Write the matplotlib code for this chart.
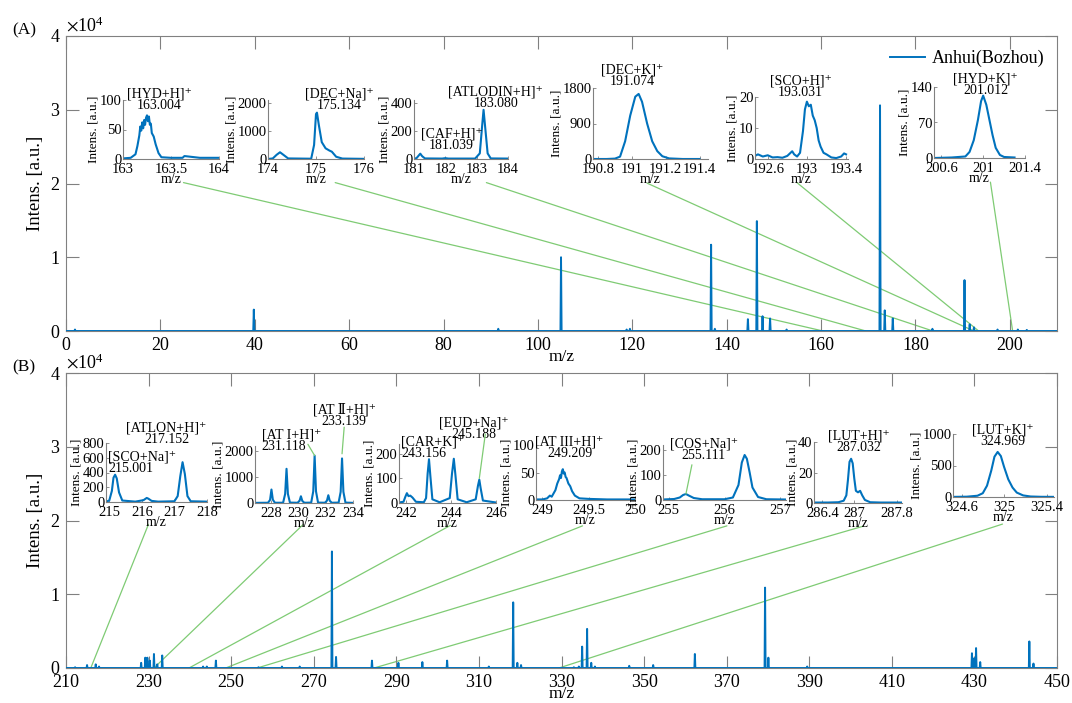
import matplotlib.pyplot as plt
from matplotlib.patches import ConnectionPatch

plt.rcParams['font.family'] = ['Liberation Serif', 'DejaVu Serif', 'DejaVu Sans']
plt.rcParams['mathtext.fontset'] = 'stix'

W, H = 1072, 703
BLUE = '#0072BD'
GREEN = '#7fcb74'
GREY = '#808080'

# ---- main spectra: peak m/z and intensity (counts)
a_mz = [1.9, 39.8, 91.6, 104.9, 118.8, 119.5, 136.7, 137.5, 144.5, 146.4, 147.6,
        149.2, 152.7, 172.5, 173.5, 175.2, 183.6, 190.4, 191.5, 192.4, 197.4,
        201.7, 203.6]
a_int = [200, 2900, 300, 10000, 200, 300, 11700, 300, 1600, 14900, 2000,
         1700, 200, 30600, 2800, 1700, 300, 6900, 900, 500, 200,
         200, 150]

b_mz = [212.2, 215.1, 217.2, 218.0, 228.2, 229.2, 229.7, 230.3, 231.3, 232.1,
        233.3, 243.2, 244.1, 246.3, 256.6, 262.3, 266.6, 274.4, 275.4, 284.1,
        290.5, 296.3, 302.3, 312.4, 318.3, 319.3, 320.2, 333.0, 334.2, 335.0,
        336.2, 337.2, 338.1, 346.4, 352.2, 362.3, 379.3, 380.1, 389.5, 429.4,
        429.9, 430.4, 431.4, 443.3, 444.3]
b_int = [100, 400, 500, 200, 700, 1400, 1400, 1000, 1900, 500,
         1700, 200, 200, 1000, 100, 200, 200, 15800, 1500, 1000,
         700, 800, 1000, 200, 8900, 700, 400, 100, 200, 2900,
         5300, 700, 200, 300, 400, 1900, 10900, 1400, 200, 2000,
         1300, 2700, 800, 3600, 600]

# where the zoom lines land on each main spectrum
a_link_mz = [160.4, 169.5, 183.7, 192.4, 193.4, 200.6]
b_link_mz = [216.0, 231.3, 239.8, 248.7, 256.3, 284.6, 329.4]

# ---- zoomed profiles, panel A
hydh_x = [163.0, 163.08, 163.13, 163.15, 163.17, 163.18, 163.19, 163.20, 163.21,
          163.22, 163.23, 163.24, 163.25, 163.26, 163.27, 163.28, 163.29, 163.30,
          163.32, 163.34, 163.37, 163.40, 163.5, 163.62, 163.64, 163.8, 164.0]
hydh_y = [1, 2, 8, 22, 40, 55, 48, 62, 52, 66, 58, 70, 74, 64, 72, 58, 60, 44,
          38, 25, 10, 3, 2, 2, 5, 2, 2]

decna_x = [174.0, 174.1, 174.18, 174.25, 174.32, 174.42, 174.9, 174.96, 175.0,
           175.02, 175.06, 175.12, 175.2, 175.28, 175.33, 175.42, 175.55, 176.0]
decna_y = [0, 20, 150, 240, 150, 20, 10, 500, 1600, 1650, 1200, 600, 380, 300,
           260, 80, 15, 5]

atlodin_x = [181.0, 181.08, 181.14, 181.2, 181.26, 181.35, 181.9, 182.0, 182.1,
             182.95, 183.1, 183.18, 183.22, 183.27, 183.35, 183.45, 184.0]
atlodin_y = [2, 6, 22, 38, 20, 4, 3, 6, 3, 3, 40, 250, 350, 230, 40, 4, 3]

deck_x = [190.77, 190.85, 190.9, 190.93, 190.96, 190.99, 191.02, 191.04, 191.06,
          191.09, 191.12, 191.15, 191.18, 191.22, 191.3, 191.4]
deck_y = [0, 0, 10, 60, 450, 1100, 1580, 1650, 1450, 900, 450, 200, 70, 15, 0, 0]

scoh_x = [192.47, 192.5, 192.55, 192.6, 192.65, 192.7, 192.75, 192.8, 192.85,
          192.87, 192.9, 192.93, 192.96, 192.98, 193.0, 193.02, 193.04, 193.06,
          193.08, 193.1, 193.12, 193.14, 193.17, 193.2, 193.25, 193.3, 193.35,
          193.38, 193.4]
scoh_y = [1, 1.5, 0.8, 1.2, 0.5, 0.6, 0.4, 1.0, 2.5, 1.5, 0.8, 2, 9, 16, 18.5,
          17, 17.5, 14, 12.5, 10, 6, 4, 2, 1.5, 0.5, 0.3, 0.8, 1.8, 1.5]

hydk_x = [200.53, 200.7, 200.83, 200.87, 200.91, 200.95, 200.98, 201.0, 201.03,
          201.06, 201.09, 201.12, 201.16, 201.2, 201.3]
hydk_y = [0, 1, 3, 12, 35, 75, 112, 123, 105, 75, 45, 20, 6, 2, 1]

# ---- zoomed profiles, panel B
scona_x = [214.9, 215.0, 215.08, 215.13, 215.18, 215.23, 215.3, 215.4, 215.8,
           216.05, 216.15, 216.2, 216.3, 216.5, 217.0, 217.1, 217.18, 217.25,
           217.32, 217.4, 217.5, 218.0]
scona_y = [5, 20, 150, 330, 370, 320, 130, 20, 5, 25, 55, 45, 15, 5, 10, 80,
           350, 540, 380, 80, 10, 5]

at12_x = [226.85, 227.8, 227.95, 228.05, 228.15, 228.3, 228.9, 229.05, 229.15,
          229.25, 229.4, 229.95, 230.1, 230.2, 230.3, 230.45, 230.95, 231.1,
          231.2, 231.3, 231.45, 231.95, 232.1, 232.2, 232.3, 232.45, 232.95,
          233.1, 233.2, 233.3, 233.45, 234.0]
at12_y = [5, 10, 120, 520, 130, 10, 10, 350, 1320, 350, 15, 10, 80, 260, 80, 10,
          15, 450, 1830, 450, 15, 10, 90, 300, 90, 10, 15, 430, 1720, 430, 15, 5]

cark_x = [241.7, 241.9, 241.98, 242.05, 242.12, 242.2, 242.3, 242.45, 242.8,
          242.9, 242.97, 243.03, 243.09, 243.18, 243.5, 243.95, 244.05, 244.13,
          244.2, 244.3, 244.7, 245.1, 245.2, 245.26, 245.32, 245.42, 246.0]
cark_y = [2, 5, 25, 40, 28, 30, 22, 5, 3, 20, 120, 178, 110, 15, 3, 20, 120, 180,
          115, 15, 3, 15, 70, 95, 60, 10, 2]

at3_x = [248.93, 249.0, 249.05, 249.08, 249.1, 249.12, 249.14, 249.16, 249.18,
         249.19, 249.2, 249.21, 249.22, 249.23, 249.24, 249.25, 249.26, 249.28,
         249.3, 249.32, 249.35, 249.4, 249.5, 249.7, 249.9, 250.0]
at3_y = [1, 1, 3, 8, 6, 12, 18, 30, 38, 45, 40, 52, 56, 48, 50, 42, 40, 30, 25,
         16, 8, 3, 2, 1, 1, 1]

cosna_x = [254.9, 255.1, 255.2, 255.26, 255.31, 255.36, 255.45, 255.6, 256.0,
           256.15, 256.25, 256.31, 256.36, 256.4, 256.45, 256.5, 256.6, 256.75,
           257.1]
cosna_y = [2, 4, 10, 20, 24, 18, 8, 3, 3, 10, 60, 150, 180, 165, 110, 50, 12, 3, 2]

luth_x = [286.24, 286.5, 286.7, 286.8, 286.85, 286.88, 286.91, 286.94, 286.97,
          287.0, 287.03, 287.07, 287.11, 287.15, 287.2, 287.3, 287.5, 287.8, 287.9]
luth_y = [0.3, 0.3, 0.5, 1.5, 5, 15, 27, 29, 26, 16, 8, 7, 8, 5, 2, 0.5, 0.3,
          0.3, 0.3]

lutk_x = [324.52, 324.65, 324.75, 324.8, 324.84, 324.88, 324.91, 324.94, 324.97,
          325.0, 325.04, 325.08, 325.12, 325.18, 325.25, 325.35, 325.47]
lutk_y = [2, 5, 20, 60, 180, 420, 640, 715, 650, 480, 280, 150, 70, 25, 8, 3, 2]


def px_axes(fig, x0, x1, y0, y1):
    return fig.add_axes([x0 / W, 1 - y1 / H, (x1 - x0) / W, (y1 - y0) / H])


def sticks(mz, inten, lo, hi):
    xs, ys = [lo], [0]
    for m, h in zip(mz, inten):
        xs += [m - 0.12, m, m + 0.12]
        ys += [0, h, 0]
    xs.append(hi)
    ys.append(0)
    return xs, ys


def main_panel(fig, y0, y1, mz, inten, xlim, xticks, tag):
    ax = px_axes(fig, 66, 1057, y0, y1)
    xs, ys = sticks(mz, inten, *xlim)
    ax.plot(xs, ys, color=BLUE, lw=1.4, label='Anhui(Bozhou)', zorder=3)
    ax.set_xlim(xlim)
    ax.set_ylim(0, 40000)
    ax.set_xticks(xticks)
    ax.set_yticks([0, 10000, 20000, 30000, 40000])
    ax.ticklabel_format(axis='y', style='sci', scilimits=(4, 4), useMathText=True)
    ax.yaxis.get_offset_text().set_fontsize(13)
    ax.tick_params(direction='in', length=9, width=0.8, color=GREY,
                   top=True, right=True, labelsize=13, pad=4)
    for s in ax.spines.values():
        s.set_color(GREY)
        s.set_linewidth(0.8)
    ax.set_xlabel('m/z', fontsize=12.5, labelpad=-3)
    ax.set_ylabel('Intens. [a.u.]', fontsize=13.5, labelpad=4)
    fig.text(12 / W, 1 - (y0 - 6) / H, tag, fontsize=12.5, va='center')
    return ax


def inset(fig, rect, x, y, xlim, xticks, ylim, yticks):
    ax = px_axes(fig, *rect)
    ax.set_facecolor('none')
    ax.plot(x, y, color=BLUE, lw=1.5)
    ax.set_xlim(xlim)
    ax.set_ylim(ylim)
    ax.set_xticks(xticks)
    ax.set_xticklabels(['%g' % t for t in xticks])
    ax.set_yticks(yticks)
    ax.set_yticklabels(['%g' % t for t in yticks])
    ax.spines['top'].set_visible(False)
    ax.spines['right'].set_visible(False)
    for s in ('left', 'bottom'):
        ax.spines[s].set_color(GREY)
        ax.spines[s].set_linewidth(0.8)
    ax.tick_params(direction='in', length=2.5, width=0.6, color=GREY,
                   labelsize=10.5, pad=1)
    ax.tick_params(axis='x', pad=3)
    ax.set_xlabel('m/z', fontsize=10, labelpad=-2.5)
    ax.set_ylabel('Intens. [a.u.]', fontsize=9.5, labelpad=0)
    return ax


def tag(ax, fx, fy, name, value, ha='center'):
    ax.text(fx, fy, name + '\n' + value, transform=ax.transAxes, ha=ha,
            va='top', fontsize=10, linespacing=0.85)


def leader(ax, peak_x, peak_y, fx, fy):
    ax.annotate('', xy=(peak_x, peak_y), xytext=(fx, fy),
                textcoords='axes fraction',
                arrowprops=dict(arrowstyle='-', color=GREEN, lw=0.9,
                                shrinkA=0, shrinkB=0))


def link(main, ins, fx, fy, target):
    con = ConnectionPatch(xyA=(fx, fy), coordsA='axes fraction', axesA=ins,
                          xyB=(target, 0), coordsB='data', axesB=main,
                          color=GREEN, lw=0.9, zorder=1)
    con.set_clip_on(False)
    main.add_artist(con)


fig = plt.figure(figsize=(W / 100, H / 100), dpi=100)

# ---------------- panel A
ax_a = main_panel(fig, 36, 331, a_mz, a_int, (0, 210), list(range(0, 201, 20)), '(A)')
ax_a.legend(loc='upper right', frameon=False, fontsize=13, handlelength=1.9,
            handletextpad=0.4, bbox_to_anchor=(1.0, 0.995), borderaxespad=0.3)

i1 = inset(fig, (123, 219, 100, 159), hydh_x, hydh_y, (163, 164), [163, 163.5, 164],
           (0, 100), [0, 50, 100])
tag(i1, 0.38, 1.22, '[HYD+H]⁺', '163.004')
i2 = inset(fig, (268, 364, 100, 159), decna_x, decna_y, (174, 176), [174, 175, 176],
           (0, 2100), [0, 1000, 2000])
tag(i2, 0.74, 1.22, '[DEC+Na]⁺', '175.134')
i3 = inset(fig, (414, 508, 100, 159), atlodin_x, atlodin_y, (181, 184),
           [181, 182, 183, 184], (0, 420), [0, 200, 400])
tag(i3, 0.87, 1.25, '[ATLODIN+H]⁺', '183.080')
tag(i3, 0.4, 0.53, '[CAF+H]⁺', '181.039')
i4 = inset(fig, (593, 708, 88, 159), deck_x, deck_y, (190.77, 191.45),
           [190.8, 191, 191.2, 191.4], (0, 1800), [0, 900, 1800])
tag(i4, 0.34, 1.34, '[DEC+K]⁺', '191.074')
i5 = inset(fig, (755, 848, 97, 159), scoh_x, scoh_y, (192.47, 193.42),
           [192.6, 193, 193.4], (0, 20), [0, 10, 20])
tag(i5, 0.49, 1.37, '[SCO+H]⁺', '193.031')
i6 = inset(fig, (934, 1025, 87, 158), hydk_x, hydk_y, (200.53, 201.4),
           [200.6, 201, 201.4], (0, 140), [0, 70, 140])
tag(i6, 0.57, 1.21, '[HYD+K]⁺', '201.012')

a_starts = [(0.63, -0.4), (0.70, -0.4), (0.77, -0.4),
            (0.47, -0.34), (0.45, -0.38), (0.62, -0.34)]
for ins, (fx, fy), t in zip([i1, i2, i3, i4, i5, i6], a_starts, a_link_mz):
    link(ax_a, ins, fx, fy, t)

# ---------------- panel B
ax_b = main_panel(fig, 373, 668, b_mz, b_int, (210, 450), list(range(210, 451, 20)), '(B)')

j1 = inset(fig, (106, 207, 443, 502), scona_x, scona_y, (214.9, 218),
           [215, 216, 217, 218], (0, 800), [0, 200, 400, 600, 800])
tag(j1, 0.6, 1.36, '[ATLON+H]⁺', '217.152')
tag(j1, 0.02, 0.88, '[SCO+Na]⁺', '215.001', ha='left')
j2 = inset(fig, (255, 353, 446, 503), at12_x, at12_y, (226.85, 234),
           [228, 230, 232, 234], (0, 2200), [0, 1000, 2000])
tag(j2, 0.91, 1.75, '[AT Ⅱ+H]⁺', '233.139')
tag(j2, 0.07, 1.3, '[AT I+H]⁺', '231.118', ha='left')
leader(j2, 231.2, 1830, 0.54, 1.03)
leader(j2, 233.2, 1900, 0.91, 1.33)
j3 = inset(fig, (399, 496, 444, 503), cark_x, cark_y, (241.7, 246),
           [242, 244, 246], (0, 240), [0, 100, 200])
tag(j3, 0.77, 1.46, '[EUD+Na]⁺', '245.188')
tag(j3, 0.02, 1.14, '[CAR+K]⁺', '243.156', ha='left')
leader(j3, 245.26, 100, 0.89, 1.17)
j4 = inset(fig, (536, 635, 445, 500), at3_x, at3_y, (248.93, 250),
           [249, 249.5, 250], (0, 100), [0, 50, 100])
tag(j4, 0.34, 1.18, '[AT III+H]⁺', '249.209')
j5 = inset(fig, (663, 786, 445, 500), cosna_x, cosna_y, (254.9, 257.1),
           [255, 256, 257], (0, 220), [0, 100, 200])
tag(j5, 0.33, 1.13, '[COS+Na]⁺', '255.111')
leader(j5, 255.31, 24, 0.235, 0.64)
j6 = inset(fig, (814, 902, 442, 503), luth_x, luth_y, (286.24, 287.9),
           [286.4, 287, 287.8], (0, 40), [0, 20, 40])
tag(j6, 0.51, 1.21, '[LUT+H]⁺', '287.032')
j7 = inset(fig, (953, 1054, 434, 497), lutk_x, lutk_y, (324.52, 325.47),
           [324.6, 325, 325.4], (0, 1000), [0, 500, 1000])
tag(j7, 0.49, 1.16, '[LUT+K]⁺', '324.969')

b_starts = [(0.42, -0.38), (0.49, -0.38), (0.53, -0.38), (0.47, -0.47),
            (0.52, -0.47), (0.56, -0.38), (0.49, -0.43)]
for ins, (fx, fy), t in zip([j1, j2, j3, j4, j5, j6, j7], b_starts, b_link_mz):
    link(ax_b, ins, fx, fy, t)

fig.savefig('out.png', dpi=100)
